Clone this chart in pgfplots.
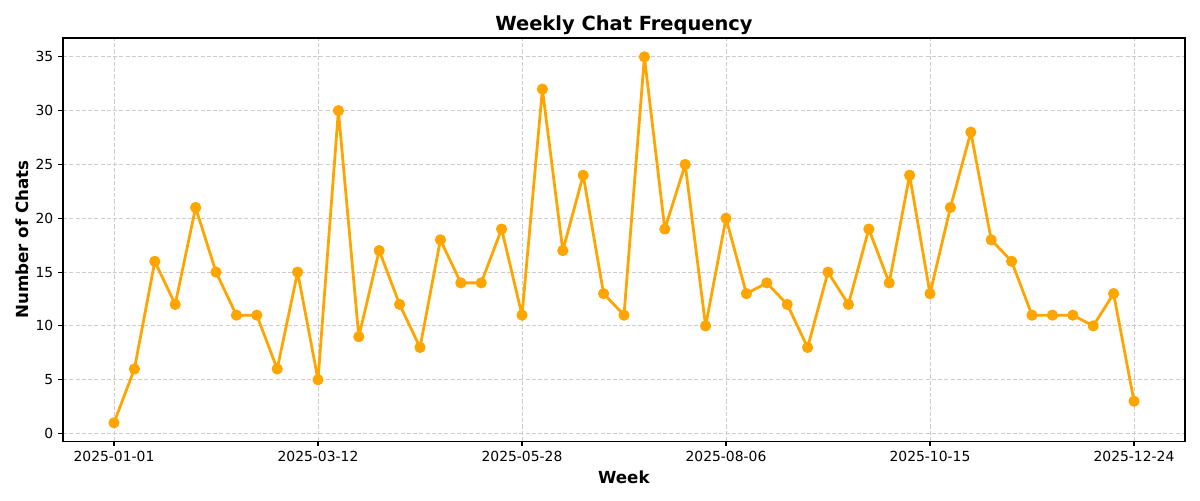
\documentclass[border=0pt]{standalone}
\usepackage{pgfplots}
\pgfplotsset{compat=1.18}
\usepackage{fontspec}
\setmainfont{DejaVu Sans}
\definecolor{lineorange}{HTML}{FFA500}
\definecolor{gridgray}{HTML}{CCCCCC}

\begin{document}
\begin{tikzpicture}
\begin{axis}[
    scale only axis,
    width=807.8pt, height=290.2pt,
    xmin=-2.5, xmax=52.5,
    ymin=-0.7, ymax=36.75,
    xtick={0,10,20,30,40,50},
    xticklabels={2025-01-01,2025-03-12,2025-05-28,2025-08-06,2025-10-15,2025-12-24},
    ytick={0,5,10,15,20,25,30,35},
    /pgf/number format/assume math mode=true,
    tick label style={font=\fontsize{10}{12}\selectfont},
    tick align=outside,
    major tick length=3.5pt,
    tick style={black, line width=0.8pt},
    xtick pos=bottom, ytick pos=left,
    axis line style={line width=0.8pt},
    grid=major,
    major grid style={gridgray, dash pattern=on 3pt off 1.5pt, line width=0.7pt},
    title={\textbf{Weekly Chat Frequency}},
    title style={font=\fontsize{14}{16}\selectfont, yshift=-7pt},
    xlabel={\textbf{Week}},
    ylabel={\textbf{Number of Chats}},
    label style={font=\fontsize{12}{14}\selectfont},
    xlabel style={yshift=0pt},
    ylabel style={yshift=-2pt},
]
\addplot[lineorange, line width=2pt, line join=round, line cap=round,
         mark=*, mark size=3pt,
         mark options={solid, fill=lineorange, draw=lineorange}]
  coordinates {
  (0,1) (1,6) (2,16) (3,12) (4,21) (5,15) (6,11) (7,11) (8,6) (9,15)
  (10,5) (11,30) (12,9) (13,17) (14,12) (15,8) (16,18) (17,14) (18,14) (19,19)
  (20,11) (21,32) (22,17) (23,24) (24,13) (25,11) (26,35) (27,19) (28,25) (29,10)
  (30,20) (31,13) (32,14) (33,12) (34,8) (35,15) (36,12) (37,19) (38,14) (39,24)
  (40,13) (41,21) (42,28) (43,18) (44,16) (45,11) (46,11) (47,11) (48,10) (49,13)
  (50,3)
  };
\end{axis}
\path ([xshift=-45.36pt,yshift=-42.48pt]current axis.south west)
  rectangle ([xshift=10.8pt,yshift=27.36pt]current axis.north east);
\end{tikzpicture}
\end{document}
